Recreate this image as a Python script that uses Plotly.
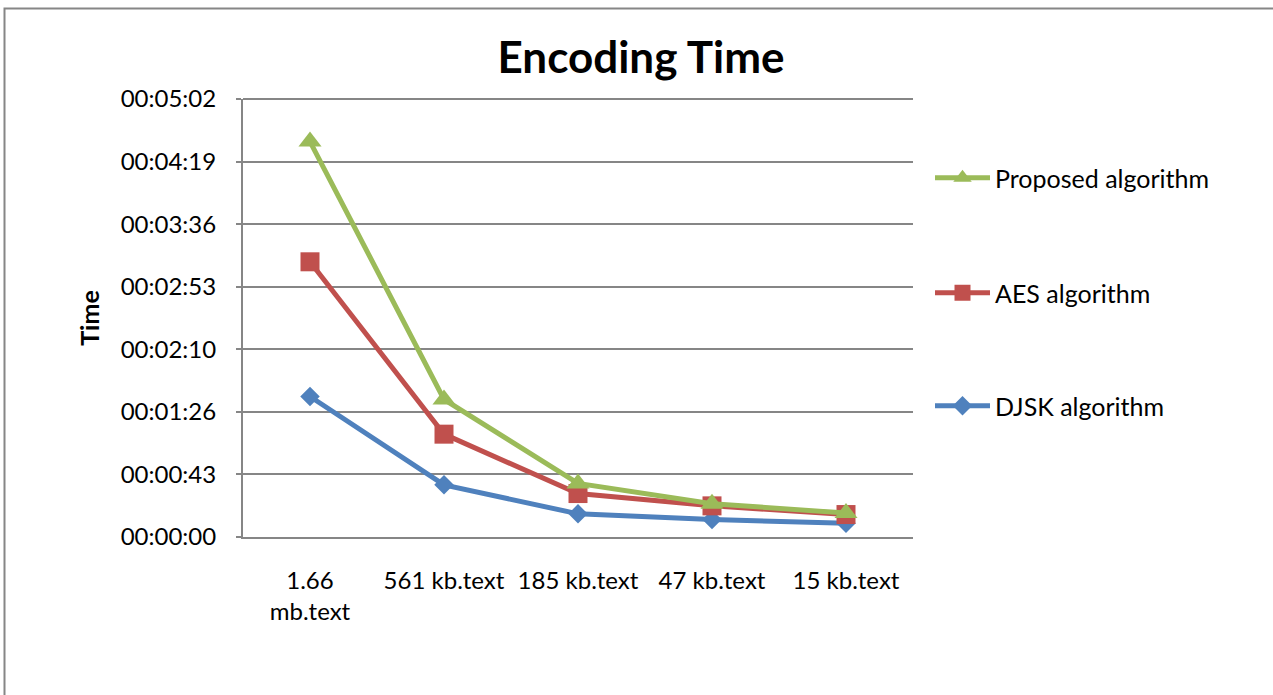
import plotly.graph_objects as go

# ---- data (time in seconds) ----
categories = ["1.66 mb.text", "561 kb.text", "185 kb.text", "47 kb.text", "15 kb.text"]
x_tick_labels = ["1.66<br>mb.text", "561 kb.text", "185 kb.text", "47 kb.text", "15 kb.text"]
djsk_seconds = [97, 36, 16, 12, 9.5]
aes_seconds = [190, 71, 30, 21.5, 15.5]
proposed_seconds = [273, 95, 37, 23, 16.5]
y_tick_values = [0, 43.2, 86.4, 129.6, 172.8, 216.0, 259.2, 302.4]
y_tick_labels = ["00:00:00", "00:00:43", "00:01:26", "00:02:10",
                 "00:02:53", "00:03:36", "00:04:19", "00:05:02"]

FONT = "Lato"
GREEN = "#9BBB59"
RED = "#C0504D"
BLUE = "#4F81BD"
GRID = "#868686"

fig = go.Figure()
fig.add_trace(go.Scatter(
    x=categories, y=djsk_seconds, name="DJSK algorithm", mode="lines+markers",
    line=dict(color=BLUE, width=5),
    marker=dict(symbol="diamond", size=15, color=BLUE),
    legend="legend3"))
fig.add_trace(go.Scatter(
    x=categories, y=aes_seconds, name="AES algorithm", mode="lines+markers",
    line=dict(color=RED, width=5),
    marker=dict(symbol="square", size=19, color=RED),
    legend="legend2"))
fig.add_trace(go.Scatter(
    x=categories, y=proposed_seconds, name="Proposed algorithm", mode="lines+markers",
    line=dict(color=GREEN, width=5),
    marker=dict(symbol="triangle-up", size=20, color=GREEN),
    legend="legend"))

L, R, T, B = 243, 913, 99, 537
W, H = 1273, 695

def px_x(p):
    return (p - L) / (R - L)

def px_y(p):
    return (B - p) / (B - T)

leg_common = dict(font=dict(family=FONT, size=25, color="#000000"),
                  bgcolor="rgba(0,0,0,0)", xanchor="left", yanchor="middle",
                  itemwidth=55, visible=True)

fig.update_layout(
    width=W, height=H,
    showlegend=True,
    margin=dict(l=L, r=W - R, t=T, b=H - B, autoexpand=False),
    paper_bgcolor="white", plot_bgcolor="white",
    font=dict(family=FONT, color="#000000"),
    title=dict(text="<b>Encoding Time</b>", x=px_x(641), xref="paper", xanchor="center",
               y=1 - 58 / H, yanchor="middle", yref="container",
               font=dict(family=FONT, size=44, color="#000000")),
    legend=dict(x=px_x(930), y=px_y(178), **leg_common),
    legend2=dict(x=px_x(930), y=px_y(293), **leg_common),
    legend3=dict(x=px_x(930), y=px_y(406), **leg_common),
    xaxis=dict(type="category", range=[-0.5, 4.5],
               tickvals=categories, ticktext=x_tick_labels,
               showgrid=False, showline=True, linecolor=GRID, linewidth=2,
               ticks="", ticklabelstandoff=21,
               tickfont=dict(family=FONT, size=24, color="#000000")),
    yaxis=dict(range=[0, 302.4], tickvals=y_tick_values, ticktext=y_tick_labels,
               showgrid=True, gridcolor=GRID, gridwidth=2,
               showline=True, linecolor=GRID, linewidth=2, mirror=False,
               ticks="outside", ticklen=5, tickcolor=GRID, tickwidth=2,
               ticklabelstandoff=15, zeroline=False,
               tickfont=dict(family=FONT, size=24, color="#000000"),
               title=dict(text="<b>Time</b>", standoff=14,
                          font=dict(family=FONT, size=25, color="#000000"))),
)

# top gridline (Excel draws line at max)
fig.add_shape(type="line", xref="paper", yref="paper", x0=0, x1=1, y0=1, y1=1,
              line=dict(color=GRID, width=2))

# outer chart frame
fig.add_shape(type="rect", xref="paper", yref="paper",
              x0=px_x(4.5), x1=px_x(1290), y0=px_y(720), y1=px_y(8.5),
              line=dict(color=GRID, width=2), layer="below")

fig.write_html("out.html", config={"displayModeBar": False},
               post_script="document.body.style.margin='0';")
